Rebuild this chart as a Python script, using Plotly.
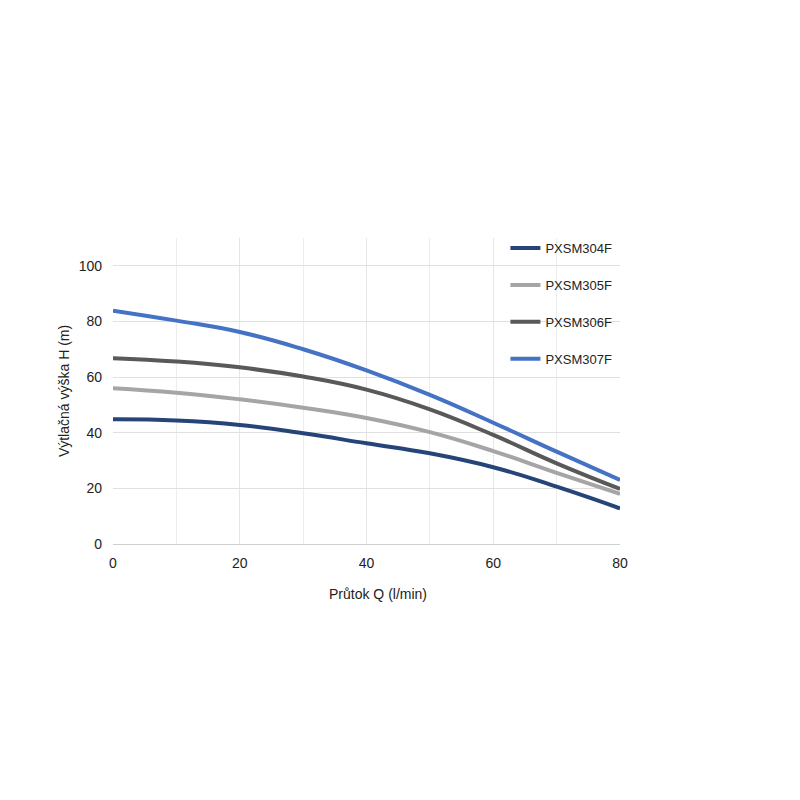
import plotly.graph_objects as go

flow = [0, 10, 20, 30, 40, 50, 60, 70, 80]
names = ["PXSM304F", "PXSM305F", "PXSM306F", "PXSM307F"]
h304 = [44.8, 44.4, 42.8, 39.8, 36.2, 32.6, 27.6, 20.6, 12.8]
h305 = [56.0, 54.4, 52.0, 49.0, 45.3, 40.2, 33.4, 25.6, 18.0]
h306 = [66.8, 65.6, 63.5, 60.2, 55.5, 48.4, 39.2, 29.0, 19.8]
h307 = [83.9, 80.3, 76.2, 70.0, 62.4, 53.6, 43.6, 33.2, 23.0]
colors = ["#264478", "#A5A5A5", "#595959", "#4472C4"]
series = [h304, h305, h306, h307]

fig = go.Figure()
for n, y, c in zip(names, series, colors):
    fig.add_trace(go.Scatter(x=flow, y=y, name=n, mode="lines", legendgroup=n,
                             line=dict(color=c, width=4, shape="spline", smoothing=1.3)))

font = "Liberation Sans, Arial, sans-serif"
fig.update_layout(
    width=800, height=800,
    paper_bgcolor="white", plot_bgcolor="white",
    margin=dict(l=105, r=188, t=230, b=264),
    font=dict(family=font, size=14, color="#333333"),
    showlegend=True,
    legend=dict(x=0.774, y=1.016, xanchor="left", yanchor="top",
                bgcolor="rgba(0,0,0,0)", tracegroupgap=17,
                font=dict(size=13, color="#222222"), itemwidth=30),
    xaxis=dict(range=[0, 80], dtick=20, showgrid=True, gridcolor="#e6e6e6",
               minor=dict(dtick=10, showgrid=True, gridcolor="#ededed"),
               zeroline=False, showline=True, linecolor="#d0d0d0",
               ticks="", ticklabelstandoff=6,
               tickfont=dict(size=14, color="#222222")),
    yaxis=dict(range=[0, 110], dtick=20, tick0=0, showgrid=True, gridcolor="#e0e0e0",
               zeroline=False, showline=False, ticks="", ticklabelstandoff=10,
               tickfont=dict(size=14, color="#222222"),
               title=dict(text="Výtlačná výška H (m)", standoff=5,
                          font=dict(size=14, color="#222222"))),
    annotations=[dict(text="Průtok Q (l/min)", xref="paper", yref="paper",
                      x=0.523, y=-0.163, xanchor="center", yanchor="middle",
                      showarrow=False, font=dict(size=14, color="#222222"))],
)
fig.write_html("out.html")
